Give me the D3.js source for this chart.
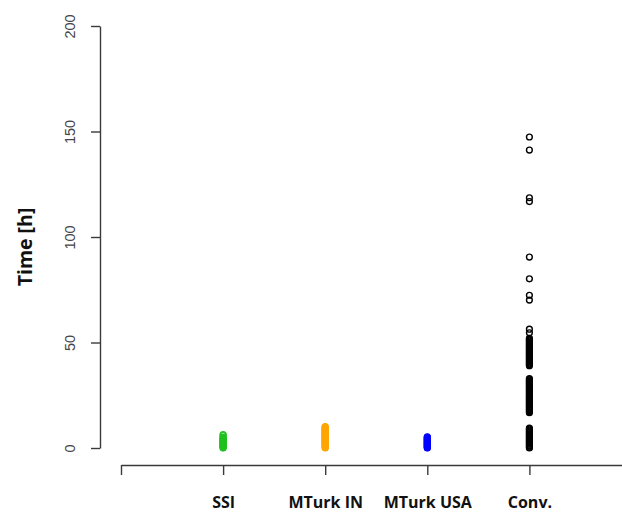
<!DOCTYPE html>
<html>
<head>
<meta charset="utf-8">
<script src="https://cdn.jsdelivr.net/npm/d3@7"></script>
<style>
  html, body { margin: 0; padding: 0; background: #fff; }
  svg { display: block; }
</style>
</head>
<body>
<svg id="chart" width="622" height="514"></svg>
<script>
// Groups along the x axis and their point colours
const categories = ["SSI", "MTurk IN", "MTurk USA", "Conv."];
const colors = ["#1fc11f", "#ffa500", "#0000ff", "#000000"];

// Completion times in hours, one array per group
const ssiTimes = [6.4, 5.9, 5.0, 4.7, 4.4, 4.1, 3.8, 3.5, 3.2, 2.9, 2.6, 2.3, 2.0, 1.7, 1.4, 1.1, 0.8, 0.5, 0.2, 0.0];
const mturkInTimes = [10.2, 9.9, 9.6, 9.3, 9.0, 8.7, 8.4, 8.1, 7.8, 7.5, 7.2, 6.9, 6.6, 6.3, 6.0, 5.7, 5.4, 5.1, 4.8, 4.5,
  4.2, 3.9, 3.6, 3.3, 3.0, 2.7, 2.4, 2.1, 1.8, 1.5, 1.2, 0.9, 0.6, 0.3, 0.0];
const mturkUsaTimes = [5.3, 5.0, 4.7, 4.4, 4.1, 3.8, 3.5, 3.2, 2.9, 2.6, 2.3, 2.0, 1.7, 1.4, 1.1, 0.8, 0.5, 0.2, 0.0];
const convTimes = [147.4, 141.2, 118.6, 116.8, 90.5, 80.2, 72.4, 70.1, 56.3, 54.6,
  52.0, 51.6, 51.1, 50.7, 50.2, 49.8, 49.3, 48.9, 48.4, 48.0, 47.5, 47.1, 46.6, 46.2, 45.7, 45.3, 44.8, 44.4,
  43.9, 43.5, 43.0, 42.6, 42.1, 41.7, 41.2, 40.8, 40.3, 39.9, 39.4, 39.0,
  32.9, 32.5, 32.0, 31.6, 31.1, 30.7, 30.2, 29.8, 29.3, 28.9, 28.4, 28.0, 27.5, 27.1, 26.6, 26.2, 25.7, 25.3,
  24.8, 24.4, 23.9, 23.5, 23.0, 22.6, 22.1, 21.7, 21.2, 20.8, 20.3, 19.9, 19.4, 19.0, 18.5, 18.1, 17.6, 17.2, 16.7,
  9.4, 9.0, 8.5, 8.1, 7.6, 7.2, 6.7, 6.3, 5.8, 5.4, 4.9, 4.5, 4.0, 3.6, 3.1, 2.7, 2.2, 1.8, 1.3, 0.9, 0.4, 0.0];
const groups = [ssiTimes, mturkInTimes, mturkUsaTimes, convTimes];

// Axis ticks
const yTicks = [0, 50, 100, 150, 200];
const xTicks = [0, 1, 2, 3, 4, 5];
const yTitle = "Time [h]";

const svg = d3.select("#chart");

const x = d3.scaleLinear().domain([0, 5]).range([121, 631.5]);
const y = d3.scaleLinear().domain([0, 200]).range([448, 26]);

const axisColor = "#3a3a3a";

// y axis, labels rotated along the axis
const yAxis = svg.append("g")
  .attr("transform", "translate(100,0)")
  .call(d3.axisLeft(y).tickValues(yTicks).tickSize(9).tickSizeOuter(0).tickPadding(0).tickFormat(d3.format("d")));
yAxis.select(".domain").attr("stroke", axisColor).attr("stroke-width", 1.4);
yAxis.selectAll(".tick line").attr("stroke", axisColor).attr("stroke-width", 1.4);
yAxis.selectAll(".tick text")
  .attr("x", 0).attr("dy", null)
  .attr("transform", "translate(-30,0) rotate(-90)")
  .attr("text-anchor", "middle")
  .attr("dominant-baseline", "central")
  .attr("fill", "#444")
  .style("font-family", "Arial, 'Liberation Sans', sans-serif")
  .style("font-size", "14.5px");

// x axis, numbers replaced by group names
const xAxis = svg.append("g")
  .attr("transform", "translate(0,465)")
  .call(d3.axisBottom(x).tickValues(xTicks).tickSize(10).tickSizeOuter(0).tickPadding(22)
    .tickFormat(d => categories[d - 1] || ""));
xAxis.select(".domain").attr("stroke", axisColor).attr("stroke-width", 1.4);
xAxis.selectAll(".tick line").attr("stroke", axisColor).attr("stroke-width", 1.4);
xAxis.selectAll(".tick text")
  .attr("fill", "#111")
  .style("font-family", "'Open Sans', sans-serif")
  .style("font-weight", "bold")
  .style("font-size", "16px");

// y axis title
svg.append("text")
  .attr("transform", `translate(24,247) rotate(-90)`)
  .attr("text-anchor", "middle")
  .attr("dominant-baseline", "central")
  .attr("fill", "#111")
  .style("font-family", "'Open Sans', sans-serif")
  .style("font-weight", "bold")
  .style("font-size", "19.5px")
  .text(yTitle);

// open-circle points per group
groups.forEach((vals, i) => {
  svg.append("g")
    .selectAll("circle")
    .data(vals)
    .join("circle")
    .attr("cx", x(i + 1))
    .attr("cy", d => y(d))
    .attr("r", 2.9)
    .attr("fill", "none")
    .attr("stroke", colors[i])
    .attr("stroke-width", 1.4);
});
</script>
</body>
</html>
